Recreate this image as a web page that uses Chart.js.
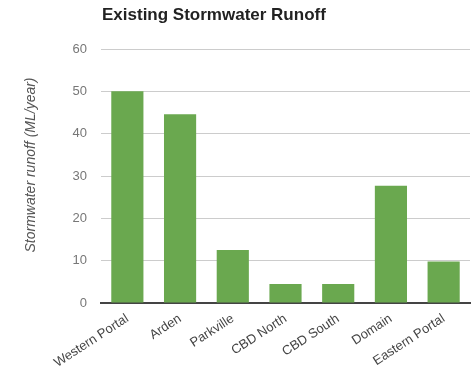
<!DOCTYPE html>
<html>
<head>
<meta charset="utf-8">
<script src="https://cdn.jsdelivr.net/npm/chart.js@4/dist/chart.umd.min.js"></script>
<style>
  html, body { margin: 0; padding: 0; background: #fff; }
  #wrap { width: 473px; height: 377px; position: relative; }
</style>
</head>
<body>
<div id="wrap"><canvas id="c" width="473" height="377"></canvas></div>
<script>
// Annual stormwater runoff per precinct
const categories = ['Western Portal', 'Arden', 'Parkville', 'CBD North', 'CBD South', 'Domain', 'Eastern Portal'];
const runoff = [50, 44.6, 12.5, 4.5, 4.5, 27.7, 9.8];
const yTicks = [0, 10, 20, 30, 40, 50, 60];

const chartTitle = 'Existing Stormwater Runoff';
const yAxisTitle = 'Stormwater runoff (ML/year)';

// Fixed plot frame
const PLOT_LEFT = 101, PLOT_TOP = 49, PLOT_BOTTOM = 303;

const textPlugin = {
  id: 'textPlugin',
  afterDraw(chart) {
    const ctx = chart.ctx;
    const area = chart.chartArea;
    ctx.save();
    ctx.fillStyle = '#222';
    ctx.font = 'bold 17px "Liberation Sans", Arial, sans-serif';
    ctx.textBaseline = 'middle';
    ctx.textAlign = 'left';
    ctx.fillText(chartTitle, area.left + 1, 15);

    ctx.translate(31, 165);
    ctx.rotate(-Math.PI / 2);
    ctx.fillStyle = '#555';
    ctx.font = 'italic 14px "Liberation Sans", Arial, sans-serif';
    ctx.textAlign = 'center';
    ctx.fillText(yAxisTitle, 0, 0);
    ctx.restore();
  }
};

new Chart(document.getElementById('c'), {
  type: 'bar',
  data: {
    labels: categories,
    datasets: [{
      data: runoff,
      backgroundColor: '#6aa84f',
      borderWidth: 0,
      categoryPercentage: 1,
      barPercentage: 0.61
    }]
  },
  options: {
    responsive: false,
    animation: false,
    devicePixelRatio: 1,
    layout: { padding: { top: PLOT_TOP, right: 3, left: 0, bottom: 0 } },
    plugins: {
      legend: { display: false },
      title: { display: false },
      tooltip: { enabled: false }
    },
    scales: {
      x: {
        grid: { display: false, drawTicks: false },
        border: { display: true, color: '#444', width: 2 },
        ticks: {
          color: '#444',
          font: { family: '"Liberation Sans", Arial, sans-serif', size: 13 },
          minRotation: 33,
          maxRotation: 33,
          autoSkip: false,
          padding: 8
        },
        afterFit(scale) { scale.height = 377 - PLOT_BOTTOM; }
      },
      y: {
        min: 0,
        max: 60,
        afterBuildTicks(scale) { scale.ticks = yTicks.map(v => ({ value: v })); },
        grid: { color: '#cccccc', lineWidth: 1, drawTicks: false },
        border: { display: false },
        ticks: {
          color: '#777',
          font: { family: '"Liberation Sans", Arial, sans-serif', size: 13 },
          padding: 14
        },
        afterFit(scale) { scale.width = PLOT_LEFT; }
      }
    }
  },
  plugins: [textPlugin]
});
</script>
</body>
</html>
